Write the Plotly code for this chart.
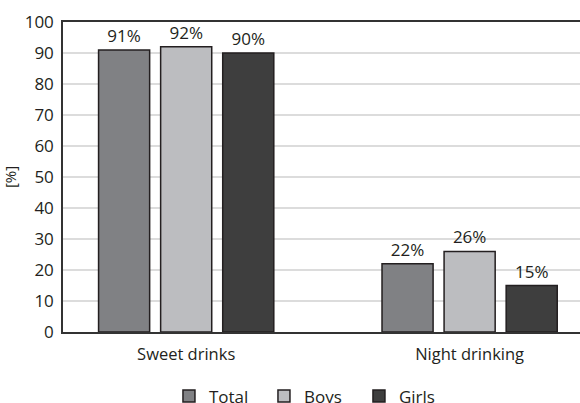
import plotly.graph_objects as go

categories = ["Sweet drinks", "Night drinking"]
total = [91, 22]
boys = [92, 26]
girls = [90, 15]
y_ticks = [0, 10, 20, 30, 40, 50, 60, 70, 80, 90, 100]

series = [
    ("Total", total, "#808184"),
    ("Boys", boys, "#bcbdc0"),
    ("Girls", girls, "#3e3e3e"),
]

font_family = "Open Sans, Noto Sans, sans-serif"
ink = "#231f20"

fig = go.Figure()
for name, vals, color in series:
    fig.add_trace(go.Bar(
        name=name,
        x=categories,
        y=vals,
        marker=dict(color=color, line=dict(color=ink, width=1.5)),
        text=[f"{v}%" for v in vals],
        textposition="outside",
        textfont=dict(family=font_family, size=17, color=ink),
        cliponaxis=False,
    ))

fig.update_layout(
    width=580,
    height=403,
    margin=dict(l=63, r=0, t=22, b=71),
    paper_bgcolor="white",
    plot_bgcolor="white",
    barmode="group",
    bargap=0.343,
    bargroupgap=0.177,
    font=dict(family=font_family, size=17, color=ink),
    showlegend=True,
    legend=dict(
        orientation="h",
        xref="container", yref="container",
        x=0.537, y=0.016,
        xanchor="center", yanchor="middle",
        entrywidth=50,
        font=dict(family=font_family, size=17, color=ink),
        itemwidth=30,
    ),
    xaxis=dict(
        type="category",
        range=[-0.4346, 1.3894],
        showline=True,
        linecolor="#333333",
        linewidth=1.5,
        mirror=True,
        ticks="",
        ticklabelstandoff=6,
        tickfont=dict(family=font_family, size=16.5, color=ink),
        showgrid=False,
    ),
    yaxis=dict(
        range=[0, 100],
        tickvals=y_ticks,
        showline=True,
        linecolor="#333333",
        linewidth=1.5,
        ticks="",
        ticklabelstandoff=4,
        showgrid=True,
        gridcolor="#dcdcdc",
        gridwidth=1.5,
        zeroline=False,
        tickfont=dict(family=font_family, size=17, color=ink),
        title=dict(text="[%]", font=dict(family=font_family, size=15, color=ink), standoff=6),
    ),
)

fig.write_html("out.html")
